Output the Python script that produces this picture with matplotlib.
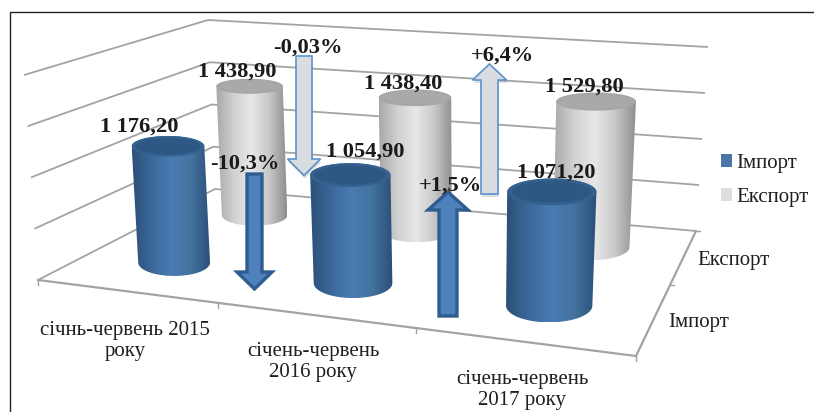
import numpy as np
import matplotlib
matplotlib.use("Agg")
import matplotlib.pyplot as plt
from matplotlib.patches import Polygon, Patch, Ellipse
from matplotlib.colors import LinearSegmentedColormap

plt.rcParams['font.family'] = ['Liberation Serif', 'DejaVu Serif']

# ---- data ----
categories = ["січнь-червень 2015\nроку", "січень-червень\n2016 року", "січень-червень\n2017 року"]
series_names = ["Імпорт", "Експорт"]
import_values = [1176.2, 1054.9, 1071.2]
export_values = [1438.9, 1438.4, 1529.8]
import_labels = ["1 176,20", "1 054,90", "1 071,20"]
export_labels = ["1 438,90", "1 438,40", "1 529,80"]
value_ticks = [0, 500, 1000, 1500, 2000]

W, H = 814, 412
fig = plt.figure(figsize=(W / 100, H / 100), dpi=100, facecolor="white")
ax = fig.add_axes([0, 0, 1, 1])
ax.set_xlim(0, W)
ax.set_ylim(H, 0)
ax.axis("off")

# ---- perspective scales: (column, row, value) -> picture ----
def homography(quad):
    src = [(0, 0), (1, 0), (1, 1), (0, 1)]
    A, b = [], []
    for (u, v), (x, y) in zip(src, quad):
        A.append([u, v, 1, 0, 0, 0, -u * x, -v * x]); b.append(x)
        A.append([0, 0, 0, u, v, 1, -u * y, -v * y]); b.append(y)
    h = np.linalg.solve(np.array(A, float), np.array(b, float))
    return np.append(h, 1).reshape(3, 3)

FLOOR = homography([(38, 280), (636, 356), (696, 231), (215, 189)])
TOP = homography([(24, 75), (648, 126), (708, 47), (208, 20)])
VMAX = value_ticks[-1]

def apply(M, c, r):
    c, r = np.asarray(c, float), np.asarray(r, float)
    c = c + 0.05 * c * (1 - c)
    w = M[2, 0] * c + M[2, 1] * r + M[2, 2]
    return ((M[0, 0] * c + M[0, 1] * r + M[0, 2]) / w,
            (M[1, 0] * c + M[1, 1] * r + M[1, 2]) / w)

def project(c, r, v):
    x0, y0 = apply(FLOOR, c, r)
    x1, y1 = apply(TOP, c, r)
    t = v / VMAX
    return x0 * (1 - t) + x1 * t, y0 * (1 - t) + y1 * t

# ---- walls and floor ----
GRID = "#a3a3a3"
for v in value_ticks:
    xs, ys = project(np.array([0, 0, 1]), np.array([0, 1, 1]), v)
    ax.plot(xs, ys, color=GRID, lw=1.3, solid_capstyle="butt", zorder=1)
fx = project(np.linspace(0, 1, 30), np.zeros(30), 0)
ax.plot(fx[0], fx[1], color=GRID, lw=1.6, zorder=1)
xs, ys = project(np.array([1, 1]), np.array([0, 1]), 0)
ax.plot(xs, ys, color=GRID, lw=1.6, zorder=1)
for c in [0, 1 / 3, 2 / 3, 1]:
    x, y = project(c, 0, 0)
    ax.plot([x, x], [y, y + 5], color=GRID, lw=1, zorder=1)
for r in [0.5, 1]:
    x, y = project(1, r, 0)
    ax.plot([x, x + 4], [y, y], color=GRID, lw=1, zorder=1)

# ---- cylinders ----
blue_cm = LinearSegmentedColormap.from_list("b", ["#2b5079", "#3b6899", "#4a7bb2", "#44739f", "#2a4f78"])
grey_cm = LinearSegmentedColormap.from_list("g", ["#a8a8a8", "#d0d0d0", "#e8e8e8", "#c8c8c8", "#8e8e8e"])
RC, RR = 0.07, 0.125
theta = np.linspace(0, np.pi, 61)

def half_sizes(c0, r0, v):
    xa, _ = project(c0 - RC, r0, v)
    xb, _ = project(c0 + RC, r0, v)
    _, ya = project(c0, r0 - RR, v)
    _, yb = project(c0, r0 + RR, v)
    return abs(xb - xa) / 2, abs(ya - yb) / 2

def cylinder(c0, r0, value, cmap, top_col, rim_col, z):
    bx, by = project(c0, r0, 0)
    tx, ty = project(c0, r0, value)
    bw, bh = half_sizes(c0, r0, 0)
    tw, th = half_sizes(c0, r0, value)
    # lower arc of the base, from left to right, then upper arc of the top
    lower = np.c_[bx - bw * np.cos(theta), by + bh * np.sin(theta)]
    upper = np.c_[tx + tw * np.cos(theta), ty - th * np.sin(theta)]
    verts = np.r_[lower, upper]
    clip = Polygon(verts, closed=True, transform=ax.transData, fc="none", ec="none")
    ax.add_patch(clip)
    im = ax.imshow(np.linspace(0, 1, 256)[None, :], cmap=cmap, aspect="auto",
                   extent=[verts[:, 0].min(), verts[:, 0].max(), verts[:, 1].max(), verts[:, 1].min()],
                   zorder=z)
    im.set_clip_path(clip)
    ax.add_patch(Ellipse((tx, ty), 2 * tw, 2 * th, fc=top_col, ec="none", zorder=z + 0.1))
    ax.add_patch(Ellipse((tx, ty), 1.8 * tw, 1.6 * th, fc=rim_col, ec="none", zorder=z + 0.2))

for i, v in enumerate(export_values):
    cylinder((i + 0.5) / 3, 0.75, v, grey_cm, "#a6a6a6", "#a9a9a9", 2)
for i, v in enumerate(import_values):
    cylinder((i + 0.5) / 3, 0.25, v, blue_cm, "#34618f", "#2e5883", 3)
ax.set_xlim(0, W)
ax.set_ylim(H, 0)

# ---- arrows ----
def arrow(x, y_tail, y_tip, half_shaft, half_head, head_len, fc, ec, lw, z=5, shadow=False):
    s = 1 if y_tip > y_tail else -1
    yb = y_tip - s * head_len
    pts = [(x - half_shaft, y_tail), (x + half_shaft, y_tail), (x + half_shaft, yb),
           (x + half_head, yb), (x, y_tip), (x - half_head, yb), (x - half_shaft, yb)]
    if shadow:
        ax.add_patch(Polygon([(a + 1, b + 3) for a, b in pts], closed=True, fc="#000000", alpha=0.13, ec="none", zorder=z - 0.1))
    ax.add_patch(Polygon(pts, closed=True, fc=fc, ec=ec, lw=lw, joinstyle="miter", zorder=z))

arrow(304, 56, 175.5, 8, 16.5, 16.5, "#d9dce0", "#5c92cc", 1.2, shadow=True)
arrow(489.5, 194, 64, 8.5, 17, 16, "#d9dce0", "#5c92cc", 1.2, shadow=True)
arrow(254.5, 174, 289, 7.5, 17.5, 17, "#4f81bd", "#2f5c91", 2.4)
arrow(448, 316, 192, 9, 20, 18, "#4f81bd", "#2f5c91", 2.4)

# ---- text ----
BOLD = dict(fontsize=16.2, fontweight="bold", color="#1a1a1a", ha="center", va="center", zorder=7)
for (x, y), t in zip([(139, 127), (365, 152), (556, 173)], import_labels):
    ax.text(x, y, t, **BOLD)
for (x, y), t in zip([(237, 72), (403, 84), (584, 87)], export_labels):
    ax.text(x, y, t, **BOLD)
for (x, y), t in zip([(308, 48), (245, 164), (450, 186), (502, 56)],
                     ["-0,03%", "-10,3%", "+1,5%", "+6,4%"]):
    ax.text(x, y, t, **BOLD)

REG = dict(fontsize=15, color="#1f1f1f", ha="center", va="center", linespacing=1.2, zorder=7)
for (x, y), t in zip([(125, 341), (313, 362), (522, 390)], categories):
    ax.text(x, y, t, **REG)
for (x, y), t in zip([(734, 260), (699, 322)], series_names[::-1]):
    ax.text(x, y, t, **REG)

handles = [Patch(fc="#4a76a8", ec="none", label=series_names[0]),
           Patch(fc="#dddddd", ec="none", label=series_names[1])]
leg = ax.legend(handles=handles, loc="upper left", bbox_to_anchor=(714.5 / W, 1 - 147.5 / H),
                frameon=False, fontsize=15, handlelength=0.53, handleheight=0.53,
                handletextpad=0.2, labelspacing=0.72, borderpad=0.3, borderaxespad=0, labelcolor="#1f1f1f")

# ---- outer frame ----
ax.plot([9.5, 9.5, W], [H, 11.5, 11.5], color="#222222", lw=1.0, zorder=8, solid_joinstyle="miter")

fig.savefig("out.png", dpi=100)
